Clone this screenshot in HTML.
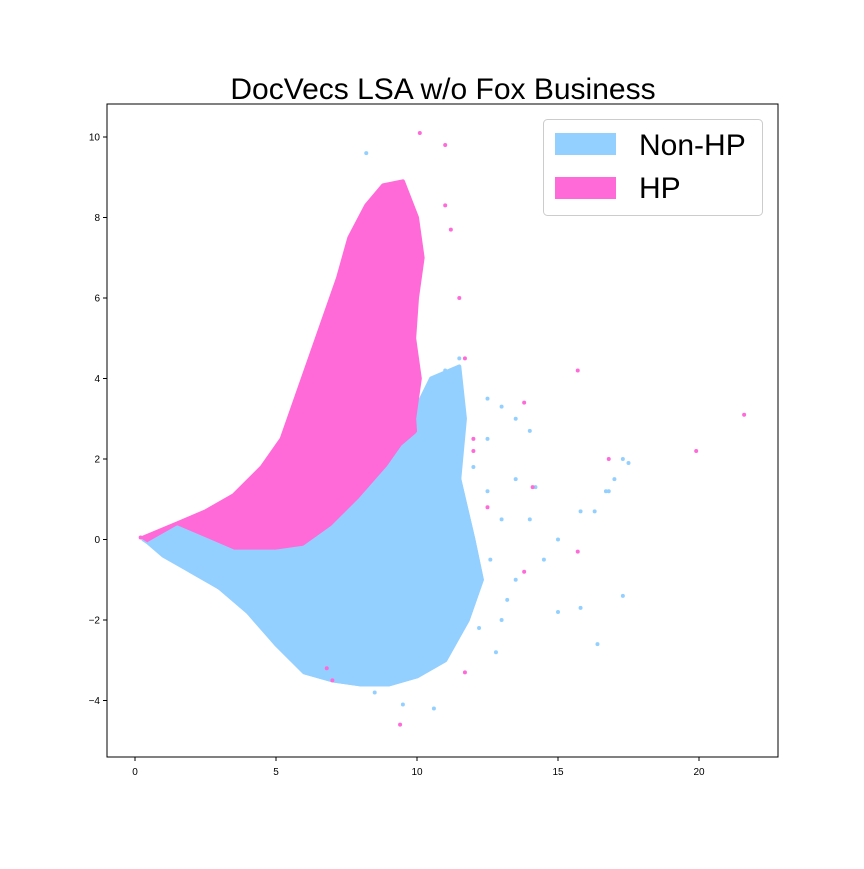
<!DOCTYPE html>
<html><head><meta charset="utf-8">
<style>
body{margin:0;background:#fff;}
svg text{font-family:"Liberation Sans",sans-serif;}
</style></head>
<body>
<svg id="chart" width="864" height="864" xmlns="http://www.w3.org/2000/svg">
<rect x="0" y="0" width="864" height="864" fill="#fff"/>
<text x="443" y="99" font-size="30" text-anchor="middle">DocVecs LSA w/o Fox Business</text>
<g id="marks"></g>
<rect x="107" y="104" width="671" height="653" fill="none" stroke="#000" stroke-width="1"/>
<g id="ticks"></g>
<g>
<rect x="543.5" y="119.5" width="219" height="96" rx="4" fill="#fff" fill-opacity="0.8" stroke="#ccc"/>
<rect x="555" y="133" width="61" height="22" fill="#94d0ff"/>
<text x="639" y="155" font-size="30">Non-HP</text>
<rect x="555" y="177" width="61" height="22" fill="#ff6ad8"/>
<text x="639" y="198" font-size="30">HP</text>
</g>
</svg>
<script>
// density hull outlines (data units) summarising the dense point clouds
const blueHullX = [0.3,1.5,3,5,7,9,9.8,10.5,11.5,11.7,11.5,12,12.3,11.8,11,10,9,8,7,6,5,4,3,2];
const blueHullY = [0,0.3,0.5,1.5,3,5,3,4,4.3,3,1.5,0,-1,-2,-3,-3.4,-3.6,-3.6,-3.5,-3.3,-2.6,-1.8,-1.2,-0.8];
const pinkHullX = [0.3,1.5,2.5,3.5,4.5,5.2,5.7,6.2,6.7,7.2,7.6,8.2,8.8,9.5,10,10.2,10,9.9,10.1,9.9,10,9,7,5,3,1.5];
const pinkHullY = [0.05,0.4,0.7,1.1,1.8,2.5,3.5,4.5,5.5,6.5,7.5,8.3,8.8,8.9,8,7,6,5,4,3,2,0,-1,-1.5,-1.2,-0.5];
const blueCoreX = [0.5,1.5,2.5,3.5,5,6,7,8,9,9.5,10,10.5,11,11.5,12,12.3,11.8,11,10,9,8,7,6,5,4,3,2,1];
const blueCoreY = [-0.1,0.3,0,-0.3,-0.3,-0.2,0.3,1,1.8,2.3,2.6,3,3.3,1.5,0,-1,-2,-3,-3.4,-3.6,-3.6,-3.5,-3.3,-2.6,-1.8,-1.2,-0.8,-0.4];
const blueOutX = [12.5,13,13.5,12.5,14,12,12.5,13.5,14.2,13,14,15,15.8,16.3,16.7,17,17.3,17.5,16.8,15.8,15,16.4,17.3,14.5,13.5,13,12.8,12.2,10.6,9.5,8.5,8.2,11,11.5,10.5,12.6,13.2];
const blueOutY = [3.5,3.3,3,2.5,2.7,1.8,1.2,1.5,1.3,0.5,0.5,0,0.7,0.7,1.2,1.5,2,1.9,1.2,-1.7,-1.8,-2.6,-1.4,-0.5,-1,-2,-2.8,-2.2,-4.2,-4.1,-3.8,9.6,4.2,4.5,3.5,-0.5,-1.5];
const pinkOutX = [21.6,19.9,15.7,16.8,13.8,11,10.1,11,11.2,11.5,11.7,12,12.5,14.1,13.8,15.7,9.4,7,6.8,11.7,12,0.2];
const pinkOutY = [3.1,2.2,4.2,2,3.4,9.8,10.1,8.3,7.7,6,4.5,2.5,0.8,1.3,-0.8,-0.3,-4.6,-3.5,-3.2,-3.3,2.2,0.05];
const xTicks = [0,5,10,15,20];
const yTicks = [-4,-2,0,2,4,6,8,10];

const NS = "http://www.w3.org/2000/svg";
function sx(v){return 135 + v*28.2;}
function sy(v){return 539.5 - v*40.25;}
const marks = document.getElementById('marks');
function hull(xs, ys, color, name){
  const p = document.createElementNS(NS,'polygon');
  p.setAttribute('points', xs.map((x,i)=>sx(x)+','+sy(ys[i])).join(' '));
  p.setAttribute('fill', color);
  p.setAttribute('stroke', color);
  p.setAttribute('stroke-width', '4');
  p.setAttribute('stroke-linejoin', 'round');
  
  
  marks.appendChild(p);
}
function pts(xs, ys, color, name){
  xs.forEach((x,i)=>{
    const c = document.createElementNS(NS,'circle');
    c.setAttribute('cx', sx(x)); c.setAttribute('cy', sy(ys[i]));
    c.setAttribute('r', 2); c.setAttribute('fill', color);
    
    
    marks.appendChild(c);
  });
}
hull(blueHullX, blueHullY, '#94d0ff', 'non-hp-cloud');
hull(pinkHullX, pinkHullY, '#ff6ad8', 'hp-cloud');
hull(blueCoreX, blueCoreY, '#94d0ff', 'non-hp-core');
pts(blueOutX, blueOutY, '#94d0ff', 'non-hp-point');
pts(pinkOutX, pinkOutY, '#ff6ad8', 'hp-point');

const tk = document.getElementById('ticks');
xTicks.forEach(v=>{
  const l = document.createElementNS(NS,'line');
  l.setAttribute('x1',sx(v)); l.setAttribute('x2',sx(v));
  l.setAttribute('y1',757); l.setAttribute('y2',761); l.setAttribute('stroke','#000');
  
  
  tk.appendChild(l);
  const t = document.createElementNS(NS,'text');
  t.setAttribute('x',sx(v)); t.setAttribute('y',775);
  t.setAttribute('font-size',10); t.setAttribute('text-anchor','middle');
  t.textContent = v;
  
  
  tk.appendChild(t);
});
yTicks.forEach(v=>{
  const l = document.createElementNS(NS,'line');
  l.setAttribute('x1',103); l.setAttribute('x2',107);
  l.setAttribute('y1',sy(v)); l.setAttribute('y2',sy(v)); l.setAttribute('stroke','#000');
  
  
  tk.appendChild(l);
  const t = document.createElementNS(NS,'text');
  t.setAttribute('x',100); t.setAttribute('y',sy(v)+3.5);
  t.setAttribute('font-size',10); t.setAttribute('text-anchor','end');
  t.textContent = v<0 ? '\u2212'+Math.abs(v) : v;
  
  
  tk.appendChild(t);
});
</script>
</body></html>
